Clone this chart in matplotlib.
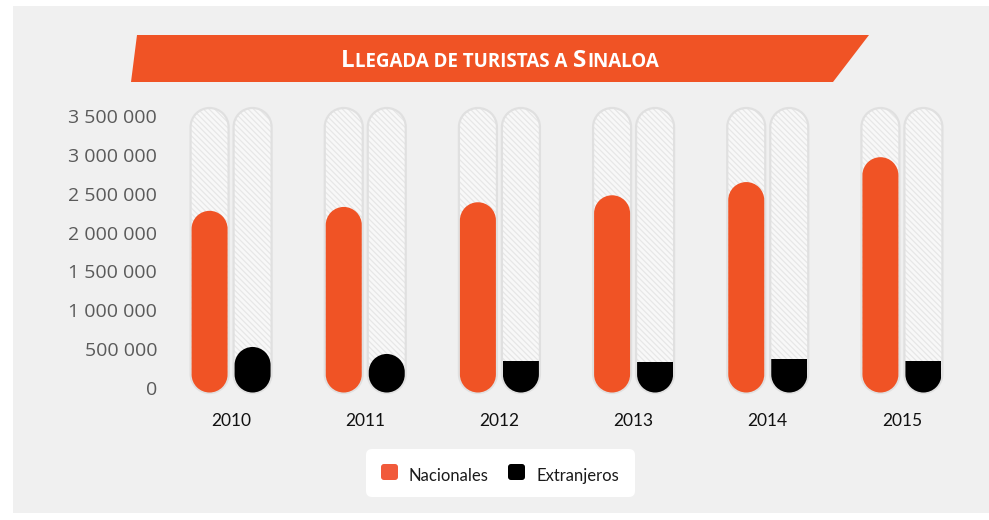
import numpy as np
import matplotlib
matplotlib.use('Agg')
import matplotlib.pyplot as plt
from matplotlib.patches import FancyBboxPatch, Rectangle, Polygon, PathPatch
from matplotlib.path import Path
from matplotlib.transforms import Affine2D

# ---------------- data ----------------
years = ['2010', '2011', '2012', '2013', '2014', '2015']
nacionales = [2280000, 2330000, 2390000, 2480000, 2650000, 2970000]
extranjeros = [528000, 438000, 347000, 335000, 373000, 347000]
series_names = ['Nacionales', 'Extranjeros']
yticks = [0, 500000, 1000000, 1500000, 2000000, 2500000, 3000000, 3500000]
track_max = 3500000
title_parts = [('L', 'big'), ('LEGADA DE TURISTAS A', 'small'), (' ', 'space'),
               ('S', 'big'), ('INALOA', 'small')]

# ---------------- style ----------------
ORANGE = '#F05325'
ORANGE_LEG = '#F15A3B'
BLACK = '#000000'
PANEL = '#F0F0F0'
W, H = 989, 520

plt.rcParams['hatch.linewidth'] = 0.9

fig = plt.figure(figsize=(W / 100, H / 100), dpi=100)
fig.patch.set_facecolor('white')
# transform: pixels with origin at top-left
T = Affine2D().scale(1, -1).translate(0, H).scale(1 / 100) + fig.dpi_scale_trans

# grey panel
fig.patches.append(Rectangle((13, 6), W - 13, 507, transform=T,
                             facecolor=PANEL, edgecolor='none', zorder=-10))

# title banner
fig.patches.append(Polygon([(137, 35), (869, 35), (833, 82), (131, 82)],
                           closed=True, transform=T, facecolor=ORANGE,
                           edgecolor='none', zorder=-5))

# ---------------- axes ----------------
L_PX, R_PX, AT_PX, AB_PX = 164, 969, 100, 400
ZERO_PX, TOP_PX = 388, 116
ax = fig.add_axes([L_PX / W, (H - AB_PX) / H, (R_PX - L_PX) / W, (AB_PX - AT_PX) / H])
ax.set_zorder(1)
ax.patch.set_visible(False)
for s in ax.spines.values():
    s.set_visible(False)

y_per_px = track_max / (ZERO_PX - TOP_PX)
ymin = -(AB_PX - ZERO_PX) * y_per_px
ymax = track_max + (TOP_PX - AT_PX) * y_per_px
ax.set_ylim(ymin, ymax)
ax.set_xlim(-0.5, len(years) - 0.5)
x_per_px = len(years) / (R_PX - L_PX)

OFFSET = 21.5 * x_per_px
BAR_W_PX = 36
TRACK_W_PX = 38
bar_bottom = -4.5 * y_per_px
track_bottom = -5.0 * y_per_px
track_top = track_max + 8 * y_per_px


def pill_path(xc, y0, y1, wpx):
    rx = wpx / 2 * x_per_px
    ry = wpx / 2 * y_per_px
    top = Path.arc(0, 180)
    bot = Path.arc(180, 360)
    vt = top.vertices * [rx, ry] + [xc, y1 - ry]
    vb = bot.vertices * [rx, ry] + [xc, y0 + ry]
    verts = np.vstack([vt, vb, vt[:1]])
    codes = list(top.codes) + [Path.LINETO] + list(bot.codes[1:]) + [Path.CLOSEPOLY]
    return Path(verts, codes)


def pill(xc, y0, y1, wpx, **kw):
    return PathPatch(pill_path(xc, y0, y1, wpx), **kw)


for i, yr in enumerate(years):
    for sign, vals, col in ((-1, nacionales, ORANGE), (1, extranjeros, BLACK)):
        xc = i + sign * OFFSET
        # hatched track
        ax.add_patch(pill(xc, track_bottom, track_top, TRACK_W_PX,
                          facecolor='#F8F8F8', edgecolor='#E7E7E7', lw=0,
                          hatch='\\\\\\\\\\\\', zorder=2))
        ax.add_patch(pill(xc, track_bottom, track_top, TRACK_W_PX,
                          fill=False, edgecolor='#E0E0E0', lw=1.6, zorder=3))
        v = vals[i]
        h_px = (v - bar_bottom) / y_per_px
        if h_px >= BAR_W_PX:
            ax.add_patch(pill(xc, bar_bottom, v, BAR_W_PX, facecolor=col,
                              edgecolor='none', zorder=4))
        else:
            clip = pill(xc, bar_bottom, track_top, BAR_W_PX, transform=ax.transData)
            bw = BAR_W_PX * x_per_px
            rect = Rectangle((xc - bw / 2, bar_bottom), bw, v - bar_bottom,
                             facecolor=col, edgecolor='none', zorder=4)
            ax.add_patch(rect)
            rect.set_clip_path(clip)

ax.set_yticks(yticks)
ax.set_yticklabels([f"{v:,}".replace(',', ' ') for v in yticks],
                   fontfamily='Open Sans', fontsize=14, color='#5A5A5A')
ax.set_xticks(range(len(years)))
ax.set_xticklabels(years, fontfamily='Lato', fontsize=12.5, color='#111111')
ax.tick_params(axis='y', length=0, pad=5)
ax.tick_params(axis='x', length=0, pad=9)

# ---------------- title (small caps) ----------------
renderer = fig.canvas.get_renderer()
sizes = {'big': 17.5, 'small': 13.5, 'space': 13.5}
texts = []
for s, kind in title_parts:
    t = fig.text(0, 67, s if kind != 'space' else 'A', transform=T,
                 fontfamily='Open Sans', fontweight='bold',
                 fontsize=sizes[kind], color='white', va='baseline', ha='left',
                 zorder=5)
    texts.append((t, kind))
widths = [t.get_window_extent(renderer).width for t, kind in texts]
for k, (t, kind) in enumerate(texts):
    if kind == 'space':
        widths[k] = 5.0
        t.set_text('')
gap = 0.3
total = sum(widths) + gap * (len(widths) - 1)
x = 500 - total / 2
for (t, kind), w in zip(texts, widths):
    t.set_x(x)
    x += w + gap

# ---------------- legend ----------------
fig.patches.append(FancyBboxPatch((366, 449), 269, 48,
                                  boxstyle='round,pad=0,rounding_size=6',
                                  transform=T, facecolor='white',
                                  edgecolor='none', zorder=1))
for (x0, col, name, tx) in ((381, ORANGE_LEG, series_names[0], 408),
                            (508, BLACK, series_names[1], 536)):
    fig.patches.append(FancyBboxPatch((x0, 464), 17, 16,
                                      boxstyle='round,pad=0,rounding_size=3',
                                      transform=T, facecolor=col,
                                      edgecolor='none', zorder=2))
    fig.text(tx, 481, name, transform=T, fontfamily='Lato', fontsize=12,
             color='#1A1A1A', va='baseline', ha='left', zorder=3)

fig.savefig('out.png', dpi=100, facecolor='white')
